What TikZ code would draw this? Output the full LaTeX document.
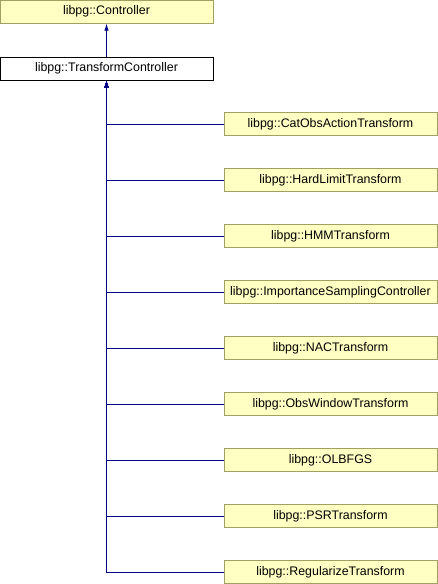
\documentclass[tikz,border=0pt]{standalone}
\usepackage{fontspec}
\setmainfont{Liberation Sans}
\usetikzlibrary{arrows.meta}
\definecolor{clsfill}{HTML}{FFFFC4}
\definecolor{clsedge}{HTML}{A0A060}
\definecolor{inherit}{HTML}{000088}
\begin{document}
\begin{tikzpicture}[x=1pt,y=-1pt,
  cls/.style={draw=clsedge, fill=clsfill, line width=1pt, minimum width=213pt,
    minimum height=23pt, inner sep=0pt, font=\fontsize{12.4}{14}\selectfont},
  cur/.style={cls, draw=black, fill=white},
  arr/.style={draw=inherit, line width=1pt, -{Latex[length=7pt,width=4.5pt]}}]
\useasboundingbox (0,0) rectangle (438,584);
\node[cls] (ctrl) at (106.5,11.5) {libpg::Controller};
\node[cur] (tc) at (106.5,68.5) {libpg::TransformController};
\foreach \n/\t [count=\i from 0] in {
  c1/CatObsActionTransform, c2/HardLimitTransform, c3/HMMTransform,
  c4/ImportanceSamplingController, c5/NACTransform, c6/ObsWindowTransform,
  c7/OLBFGS, c8/PSRTransform, c9/RegularizeTransform} {
  \node[cls] (\n) at (330.5,{124+56*\i}) {libpg::\t};
  \draw[arr] (\n.west) -| (tc.south);
}
\draw[arr] (tc.north) -- (ctrl.south);
\end{tikzpicture}
\end{document}
